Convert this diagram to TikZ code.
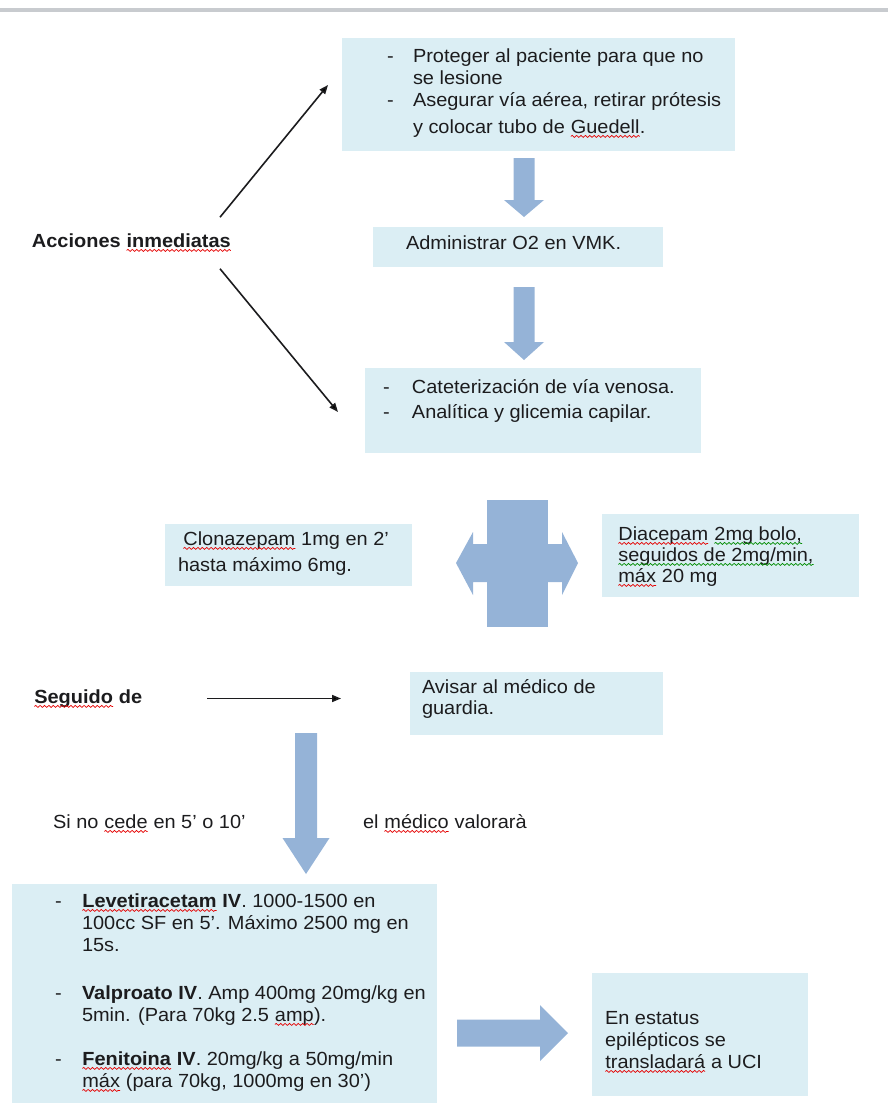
\documentclass[tikz,border=0pt]{standalone}
\usepackage{fontspec}
\setmainfont{Liberation Sans}[FakeStretch=1.05]
\usepackage{tikz}
\usetikzlibrary{arrows.meta,decorations.pathmorphing}
\definecolor{cajaazul}{RGB}{219,238,244}
\definecolor{flechaazul}{RGB}{149,179,215}
\definecolor{tinta}{RGB}{28,28,30}
\definecolor{gris}{RGB}{200,203,207}
\def\flechabaja(#1,#2)(#3:#4:#5:#6){\fill[bloque] (#1-#5,#2) -- (#1+#5,#2) -- (#1+#5,#3) -- (#1+#6,#3) -- (#1,#4) -- (#1-#6,#3) -- (#1-#5,#3) -- cycle;}
\newcommand{\subraya}[2]{\tikz[baseline=(w.base)]{\node[inner sep=0pt,outer sep=0pt,anchor=base,draw=none,fill=none] (w) {#2}; \draw[#1, line width=0.35pt, decorate, decoration={snake,amplitude=0.5pt,segment length=2.2pt}] ([yshift=-1.7pt]w.base west) -- ([yshift=-1.7pt]w.base east);}}
\newcommand{\ortog}[1]{\subraya{red!90!black}{#1}}
\newcommand{\gram}[1]{\subraya{green!55!black}{#1}}

\begin{document}
\begin{tikzpicture}[x=0.5pt,y=-0.5pt,
	caja/.style={fill=cajaazul, inner sep=0pt, outer sep=0pt, anchor=north west},
	texto/.style={inner sep=0pt, outer sep=0pt, anchor=base west, text=tinta, font=\fontsize{9.5}{11}\selectfont},
	negrita/.style={texto, font=\fontsize{9.5}{11}\selectfont\bfseries},
	bloque/.style={fill=flechaazul},
	flechita/.style={line width=0.8pt, draw=tinta, -{Triangle[length=4.5pt,width=3.5pt]}}]
	%%%%% START %%%%%
	
	\useasboundingbox (0,0) rectangle (888,1108);
	\fill[gris] (0,8) rectangle (888,12);
	
	\node[caja, minimum width=196.5pt, minimum height=56.5pt] (caja1) at (342,38) {};
	\node[texto] (texto1) at (387,62) {\begin{tabular}[t]{@{}p{13pt}@{}l@{}}
		- & Proteger al paciente para que no\\
		& se lesione\\
		- & Asegurar vía aérea, retirar prótesis\\[2.5pt]
		& y colocar tubo de \ortog{Guedell}.
	\end{tabular}};
	
	\flechabaja(524,158)(200:217:10.5:20)
	
	\node[caja, minimum width=145pt, minimum height=20pt] (caja2) at (373,227) {};
	\node[texto] (texto2) at (406,249) {Administrar O2 en VMK.};
	
	\flechabaja(524,287)(342:360:10.5:20)
	
	\node[caja, minimum width=168pt, minimum height=42.5pt] (caja3) at (365,368) {};
	\node[texto] (texto3) at (383,393) {\begin{tabular}[t]{@{}p{14.5pt}@{}l@{}}
		- & Cateterización de vía venosa.\\[1.5pt]
		- & Analítica y glicemia capilar.
	\end{tabular}};
	
	\node[negrita] (acciones) at (32,247) {Acciones \ortog{inmediatas}};
	\draw[flechita] ([shift={(188,-16)}]acciones.north west) -- ([shift={(-14,47)}]caja1.north west);
	\draw[flechita] ([shift={(188,17)}]acciones.south west) -- ([shift={(-27,44)}]caja3.north west);
	
	% cruz central
	\fill[bloque] (487,500) rectangle (548,627);
	\fill[bloque] (456,563) -- (473,532) -- (473,544) -- (562,544) -- (562,532) -- (578,563) -- (562,595) -- (562,582) -- (473,582) -- (473,595) -- cycle;
	
	\node[caja, minimum width=123.5pt, minimum height=31pt] (clona) at (165,524) {};
	\node[texto] (textoclona) at (178,545) {\begin{tabular}[t]{@{}l@{}}
		\hspace{2.5pt}\ortog{Clonazepam} 1mg en 2’\\[2pt]
		hasta máximo 6mg.
	\end{tabular}};
	
	\node[caja, minimum width=128.5pt, minimum height=41.5pt] (diace) at (602,514) {};
	\node[texto] (textodiace) at (618,540) {\begin{tabular}[t]{@{}l@{}}
		\ortog{Diacepam} \gram{2mg bolo,}\\[-0.5pt]
		\gram{seguidos de 2mg/min,}\\[-0.5pt]
		\ortog{máx} 20 mg
	\end{tabular}};
	
	\node[negrita] (seguido) at (34,703) {\ortog{Seguido} de};
	\node[caja, minimum width=126.5pt, minimum height=31.5pt] (avisar) at (410,672) {};
	\node[texto] (textoavisar) at (422,693) {\begin{tabular}[t]{@{}l@{}}
		Avisar al médico de\\[-0.5pt]
		guardia.
	\end{tabular}};
	\draw[flechita] ([shift={(173,0)}]seguido.west) -- ++(134,0);
	
	\flechabaja(306,733)(838:874:11:23.5)
	\node[texto] (sinocede) at (53,828) {Si no \ortog{cede} en 5’ o 10’};
	\node[texto] (valorara) at (363,828) {el \ortog{médico} valorarà};
	
	\node[caja, minimum width=212.5pt, minimum height=109.5pt] (farmacos) at (12,884) {};
	\node[texto] (textofarmacos) at (55,907) {\begin{tabular}[t]{@{}p{13.5pt}@{}l@{}}
		- & \textbf{\ortog{Levetiracetam} IV}. 1000-1500 en\\
		& 100cc SF en 5’. Máximo 2500 mg en\\
		& 15s.\\[13pt]
		- & \textbf{Valproato IV}. Amp 400mg 20mg/kg en\\
		& 5min. (Para 70kg 2.5 \ortog{amp}).\\[11pt]
		- & \textbf{\ortog{Fenitoina} IV}. 20mg/kg a 50mg/min\\
		& \ortog{máx} (para 70kg, 1000mg en 30’)
	\end{tabular}};
	
	\fill[bloque] (457,1019.5) -- (540,1019.5) -- (540,1005) -- (568,1033) -- (540,1061) -- (540,1046.5) -- (457,1046.5) -- cycle;
	
	\node[caja, minimum width=108pt, minimum height=61.5pt] (uci) at (592,973) {};
	\node[texto] (textouci) at (605,1024) {\begin{tabular}[t]{@{}l@{}}
		En estatus\\
		epilépticos se\\
		\ortog{transladará} a UCI
	\end{tabular}};
	
	%%%%% END %%%%%
\end{tikzpicture}
\end{document}
